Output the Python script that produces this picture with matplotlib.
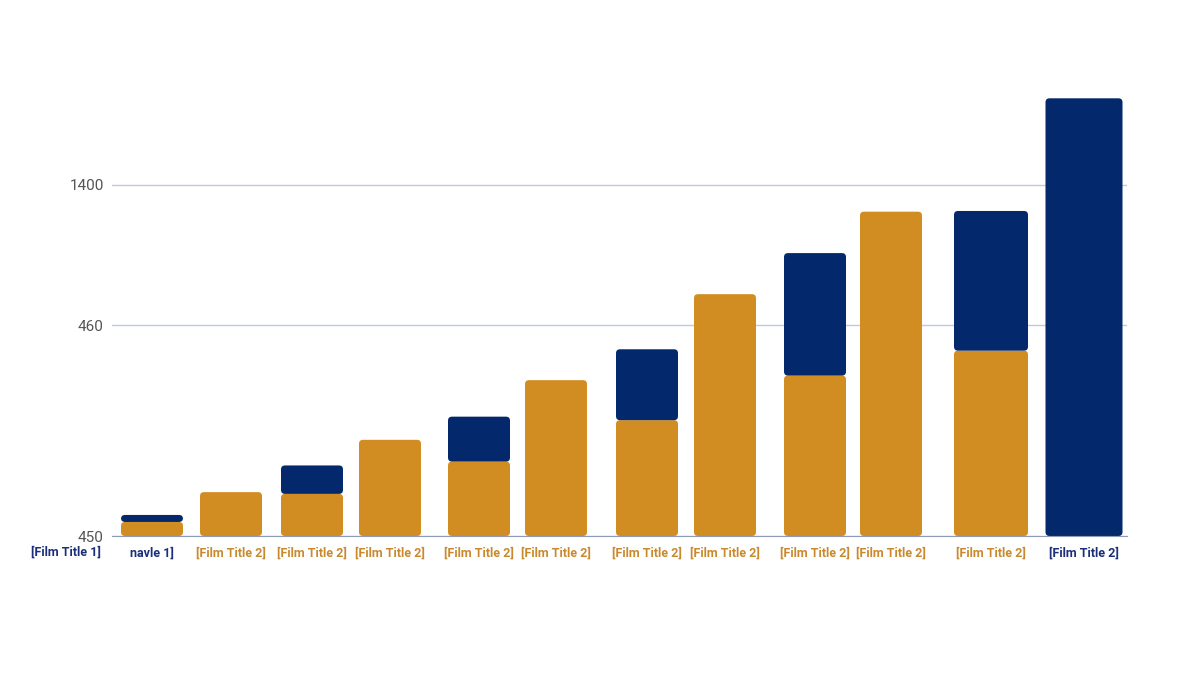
import matplotlib.pyplot as plt
from matplotlib.patches import FancyBboxPatch

# data
labels = ["navle 1]", "[Film Title 2]", "[Film Title 2]", "[Film Title 2]",
          "[Film Title 2]", "[Film Title 2]", "[Film Title 2]", "[Film Title 2]",
          "[Film Title 2]", "[Film Title 2]", "[Film Title 2]", "[Film Title 2]"]
gold_vals = [40, 125, 120, 274, 212, 444, 330, 689, 457, 924, 528, 0]
navy_vals = [20, 0, 81, 0, 128, 0, 202, 0, 349, 0, 398, 1247]
label_is_navy = [True, False, False, False, False, False, False, False,
                 False, False, False, True]
ytick_vals = [0, 600, 1000]
ytick_labels = ["450", "460", "1400"]

# layout
x_pos = [152, 231, 312, 390, 479, 556, 647, 725, 815, 891, 991, 1084]
widths = [62, 62, 62, 62, 62, 62, 62, 62, 62, 62, 74, 77]

GOLD = "#D28D22"
NAVY = "#03286B"
GOLD_TXT = "#C98A2E"
NAVY_TXT = "#1B2F7A"

plt.rcParams['font.family'] = ['Roboto', 'DejaVu Sans']

fig = plt.figure(figsize=(12, 6.75), dpi=100)
ax = fig.add_axes([112 / 1200, 1 - 536 / 675, 1015 / 1200, 456 / 675])
ax.set_xlim(112, 1127)
ymax = 456 * 1000 / 351
ax.set_ylim(0, ymax)

gold = ax.bar(x_pos, gold_vals, width=widths, color=GOLD, zorder=3)
navy = ax.bar(x_pos, navy_vals, width=widths, bottom=gold_vals, color=NAVY, zorder=3)

# swap plain rectangles for slightly rounded ones
aspect = ymax / 456
for cont, col in ((gold, GOLD), (navy, NAVY)):
    for p in cont.patches:
        if p.get_height() <= 0:
            p.remove()
            continue
        rp = FancyBboxPatch((p.get_x(), p.get_y()), p.get_width(), p.get_height(),
                            boxstyle="round,pad=0,rounding_size=4",
                            mutation_aspect=aspect, facecolor=col,
                            edgecolor="none", zorder=3 if col == GOLD else 4)
        ax.add_patch(rp)
        p.remove()

ax.set_yticks(ytick_vals)
ax.set_yticklabels(ytick_labels, fontsize=11, color="#555555")
ax.tick_params(axis='y', length=0, pad=6)
ax.yaxis.grid(True, color="#C0C8E2", linewidth=1, zorder=0)

ax.set_xticks(x_pos)
ax.set_xticklabels(labels, fontsize=9, fontweight='bold')
ax.tick_params(axis='x', length=0, pad=8)
for t, nv in zip(ax.get_xticklabels(), label_is_navy):
    t.set_color(NAVY_TXT if nv else GOLD_TXT)

# extra label left of the axis
ax.text(66, -16 / 456 * ymax, "[Film Title 1]", ha='center', va='center',
        fontsize=9, fontweight='bold', color=NAVY_TXT, clip_on=False)

for s in ("top", "right", "left"):
    ax.spines[s].set_visible(False)
ax.spines["bottom"].set_color("#8E9BB8")
ax.spines["bottom"].set_zorder(5)

fig.savefig("out.png", dpi=100)
